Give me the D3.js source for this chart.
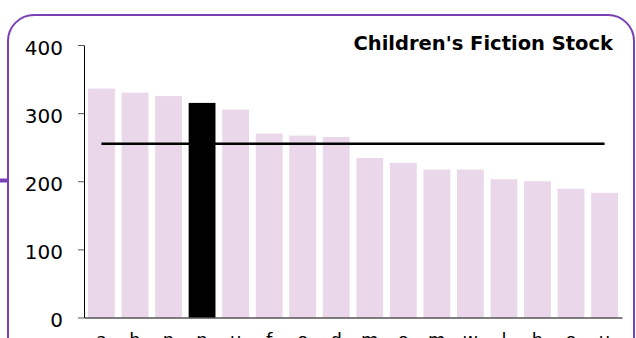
<!DOCTYPE html>
<html>
<head>
<meta charset="utf-8">
<script src="https://cdn.jsdelivr.net/npm/d3@7"></script>
<style>
  html, body { margin: 0; padding: 0; background: #fff; overflow: hidden; }
  svg { display: block; }
  text { font-family: "DejaVu Sans", Verdana, sans-serif; fill: #000; }
</style>
</head>
<body>
<svg id="chart" width="636" height="338"></svg>
<script>
// ---- data ----
const categories = ["a", "b", "n", "n", "u", "f", "o", "d", "m", "o", "m", "w", "l", "b", "o", "u"];
const stockValues = [336, 330, 325, 315, 305, 270, 267, 265, 234, 227, 217, 217, 203, 200, 189, 183];
const highlightIndex = [3];
const averageValue = [255];
const yTicks = [0, 100, 200, 300, 400];
const titleText = ["Children's Fiction Stock"];

(function () {
// ---- layout ----
const plotLeft = 84, plotRight = 622, plotTop = 45, plotBottom = 317.5;
const purple = "#7b3fb6";
const barFill = "#ead8ea";

const svg = d3.select("#chart");

// frame
svg.append("rect")
  .attr("x", 8).attr("y", 15)
  .attr("width", 626).attr("height", 360)
  .attr("rx", 26).attr("ry", 26)
  .attr("fill", "none")
  .attr("stroke", purple)
  .attr("stroke-width", 2);

svg.append("line")
  .attr("x1", 0).attr("x2", 8)
  .attr("y1", 180.5).attr("y2", 180.5)
  .attr("stroke", purple)
  .attr("stroke-width", 4);

const x = d3.scaleBand()
  .domain(d3.range(categories.length))
  .range([plotLeft, plotRight])
  .paddingInner(0.2)
  .paddingOuter(0.12);

const y = d3.scaleLinear()
  .domain([0, 400])
  .range([plotBottom, plotTop]);

// bars
svg.append("g")
  .selectAll("rect")
  .data(stockValues)
  .join("rect")
  .attr("x", (d, i) => x(i))
  .attr("y", d => y(d))
  .attr("width", x.bandwidth())
  .attr("height", d => y(0) - y(d))
  .attr("fill", (d, i) => highlightIndex.includes(i) ? "#000" : barFill);

// average line
svg.append("line")
  .attr("x1", x(0) + x.bandwidth() / 2)
  .attr("x2", x(categories.length - 1) + x.bandwidth() / 2)
  .attr("y1", y(averageValue[0]))
  .attr("y2", y(averageValue[0]))
  .attr("stroke", "#000")
  .attr("stroke-width", 2.6);

// y axis
const yAxis = svg.append("g")
  .attr("transform", `translate(${plotLeft},0)`)
  .call(d3.axisLeft(y).tickValues(yTicks).tickSize(6).tickSizeOuter(0).tickPadding(15));
yAxis.select(".domain").attr("stroke", "#000");
yAxis.selectAll(".tick line").attr("stroke", "#555");
yAxis.selectAll(".tick text")
  .attr("font-size", 20)
  .attr("font-family", "DejaVu Sans, Verdana, sans-serif")
  .attr("dy", "0.47em")
  .attr("fill", "#000");

// x axis
const xAxis = svg.append("g")
  .attr("transform", `translate(0,${plotBottom})`)
  .call(d3.axisBottom(x).tickFormat(i => categories[i]).tickSize(0).tickSizeOuter(0).tickPadding(28));
xAxis.select(".domain").attr("stroke", "#000");
xAxis.selectAll(".tick text")
  .attr("font-size", 18)
  .attr("font-family", "DejaVu Sans, Verdana, sans-serif")
  .attr("dy", "0")
  .attr("fill", "#000");

// title
svg.append("text")
  .attr("x", 613)
  .attr("y", 50)
  .attr("text-anchor", "end")
  .attr("font-size", 19.5)
  .attr("font-weight", "bold")
  .text(titleText[0]);
})();
</script>
</body>
</html>
